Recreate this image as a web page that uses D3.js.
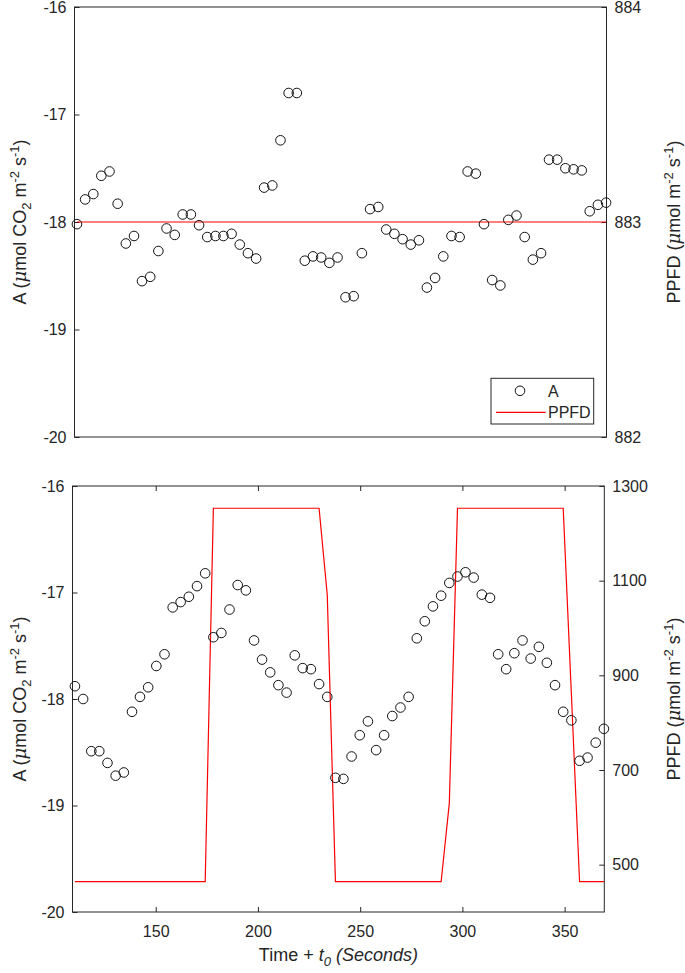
<!DOCTYPE html>
<html>
<head>
<meta charset="utf-8">
<script src="https://cdn.jsdelivr.net/npm/d3@7"></script>
<style>
	body { margin: 0; background: #fff; }
	#root { width: 685px; height: 973px; }
	text { font-family: "Liberation Sans", Arial, sans-serif; fill: #262626; }
</style>
</head>
<body>
<div id="root"></div>
<script>
// sample times (s), same for both runs
const times = [
	110.5, 114.5, 118.5, 122.4, 126.4, 130.4, 134.4, 138.4, 142.3, 146.3,
	150.3, 154.3, 158.3, 162.2, 166.2, 170.2, 174.2, 178.2, 182.1, 186.1,
	190.1, 194.1, 198.1, 202.0, 206.0, 210.0, 214.0, 218.0, 221.9, 225.9,
	229.9, 233.9, 237.9, 241.8, 245.8, 249.8, 253.8, 257.8, 261.7, 265.7,
	269.7, 273.7, 277.7, 281.6, 285.6, 289.6, 293.6, 297.6, 301.5, 305.5,
	309.5, 313.5, 317.5, 321.4, 325.4, 329.4, 333.4, 337.4, 341.3, 345.3,
	349.3, 353.3, 357.3, 361.2, 365.2, 369.2
];

// top: constant light
const aTop = [
	-18.02, -17.79, -17.74, -17.57, -17.53, -17.83, -18.20, -18.13, -18.55, -18.51,
	-18.27, -18.06, -18.12, -17.93, -17.93, -18.03, -18.14, -18.13, -18.13, -18.11,
	-18.21, -18.29, -18.34, -17.68, -17.66, -17.24, -16.80, -16.80, -18.36, -18.32,
	-18.33, -18.38, -18.33, -18.70, -18.69, -18.29, -17.88, -17.86, -18.07, -18.11,
	-18.16, -18.21, -18.17, -18.61, -18.52, -18.32, -18.13, -18.14, -17.53, -17.55,
	-18.02, -18.54, -18.59, -17.98, -17.94, -18.14, -18.35, -18.29, -17.42, -17.42,
	-17.50, -17.51, -17.52, -17.90, -17.84, -17.82
];
const ppfdTop = [
	883, 883, 883, 883, 883, 883, 883, 883, 883, 883,
	883, 883, 883, 883, 883, 883, 883, 883, 883, 883,
	883, 883, 883, 883, 883, 883, 883, 883, 883, 883,
	883, 883, 883, 883, 883, 883, 883, 883, 883, 883,
	883, 883, 883, 883, 883, 883, 883, 883, 883, 883,
	883, 883, 883, 883, 883, 883, 883, 883, 883, 883,
	883, 883, 883, 883, 883, 883
];

// bottom: square wave light
const aBottom = [
	-17.88, -18.00, -18.49, -18.49, -18.60, -18.72, -18.69, -18.12, -17.98, -17.89,
	-17.69, -17.58, -17.14, -17.09, -17.04, -16.94, -16.82, -17.42, -17.38, -17.16,
	-16.93, -16.98, -17.45, -17.63, -17.75, -17.87, -17.94, -17.59, -17.71, -17.72,
	-17.86, -17.98, -18.74, -18.75, -18.54, -18.34, -18.21, -18.48, -18.34, -18.16,
	-18.08, -17.98, -17.43, -17.27, -17.13, -17.03, -16.91, -16.85, -16.81, -16.86,
	-17.02, -17.05, -17.58, -17.72, -17.57, -17.45, -17.62, -17.51, -17.66, -17.87,
	-18.12, -18.20, -18.58, -18.55, -18.41, -18.28
];
const ppfdBottom = [
	464, 464, 464, 464, 464, 464, 464, 464, 464, 464,
	464, 464, 464, 464, 464, 464, 464, 1253, 1253, 1253,
	1253, 1253, 1253, 1253, 1253, 1253, 1253, 1253, 1253, 1253,
	1253, 1070, 464, 464, 464, 464, 464, 464, 464, 464,
	464, 464, 464, 464, 464, 464, 630, 1253, 1253, 1253,
	1253, 1253, 1253, 1253, 1253, 1253, 1253, 1253, 1253, 1253,
	1253, 860, 464, 464, 464, 464
];

const xDomain = [109.3, 369.4];
const xTicks = [150, 200, 250, 300, 350];
const aTicks = [-20, -19, -18, -17, -16];
const ppfdTopTicks = [882, 883, 884];
const ppfdBottomTicks = [500, 700, 900, 1100, 1300];

const axisColor = "#262626";
const red = "#ff0000";

const makeChart = () => {
	const svg = d3.select("#root")
		.append("svg")
			.attr("width", 685)
			.attr("height", 973);

	drawPanel(svg, {
		left: 74.5, right: 606.5, top: 7, bottom: 437,
		a: aTop, ppfd: ppfdTop,
		pDomain: [882, 884], pTicks: ppfdTopTicks,
		showX: false, legend: true
	});

	drawPanel(svg, {
		left: 72.5, right: 604.3, top: 486, bottom: 912,
		a: aBottom, ppfd: ppfdBottom,
		pDomain: [400, 1300], pTicks: ppfdBottomTicks,
		showX: true, legend: false
	});
};

const plainNum = d => String(d);

const styleAxis = (g) => {
	g.select(".domain").remove();
	g.selectAll("line").attr("stroke", axisColor);
	g.selectAll("text")
		.attr("fill", axisColor)
		.style("font-size", "16px");
};

const unitLabel = (text, parts) => {
	// parts: [string, kind] where kind is "n", "mu", "sub", "sup"
	let shift = 0;
	parts.forEach(([s, kind]) => {
		const t = text.append("tspan").text(s);
		let target = 0;
		if (kind === "sub") { target = 5; t.style("font-size", "13px"); }
		if (kind === "sup") { target = -7; t.style("font-size", "13px"); }
		if (kind === "mu") { t.style("font-style", "italic").style("font-family", "'DejaVu Serif', serif"); }
		if (target !== shift) t.attr("dy", target - shift);
		shift = target;
	});
};

const drawPanel = (svg, p) => {
	const x = d3.scaleLinear().domain(xDomain).range([p.left, p.right]);
	const yA = d3.scaleLinear().domain([-20, -16]).range([p.bottom, p.top]);
	const yP = d3.scaleLinear().domain(p.pDomain).range([p.bottom, p.top]);

	const g = svg.append("g");

	// box
	g.append("rect")
		.attr("x", p.left)
		.attr("y", p.top)
		.attr("width", p.right - p.left)
		.attr("height", p.bottom - p.top)
		.attr("fill", "none")
		.attr("stroke", axisColor)
		.attr("stroke-width", 1);

	// left axis
	g.append("g")
		.attr("transform", `translate(${p.left},0)`)
		.call(d3.axisLeft(yA).tickValues(aTicks).tickFormat(plainNum)
			.tickSizeInner(-5).tickSizeOuter(0).tickPadding(8))
		.call(styleAxis);

	// right axis
	g.append("g")
		.attr("transform", `translate(${p.right},0)`)
		.call(d3.axisRight(yP).tickValues(p.pTicks).tickFormat(plainNum)
			.tickSizeInner(-5).tickSizeOuter(0).tickPadding(8))
		.call(styleAxis);

	if (p.showX) {
		g.append("g")
			.attr("transform", `translate(0,${p.bottom})`)
			.call(d3.axisBottom(x).tickValues(xTicks).tickFormat(plainNum)
				.tickSizeInner(-5).tickSizeOuter(0).tickPadding(14))
			.call(styleAxis);

		g.append("g")
			.attr("transform", `translate(0,${p.top})`)
			.call(d3.axisTop(x).tickValues(xTicks).tickFormat("")
				.tickSizeInner(-5).tickSizeOuter(0))
			.call(styleAxis);

		const xl = g.append("text")
			.attr("x", (p.left + p.right) / 2)
			.attr("y", 961)
			.attr("text-anchor", "middle")
			.style("font-size", "18px");
		xl.append("tspan").text("Time +  ");
		xl.append("tspan").text("t").style("font-style", "italic");
		xl.append("tspan").text("0").style("font-style", "italic").style("font-size", "13px").attr("dy", 5);
		xl.append("tspan").text(" (Seconds)").style("font-style", "italic").attr("dy", -5);
	}

	// PPFD line
	const line = d3.line()
		.x((d, i) => x(times[i]))
		.y(d => yP(d));

	g.append("path")
		.datum(p.ppfd)
		.attr("d", line)
		.attr("fill", "none")
		.attr("stroke", red)
		.attr("stroke-width", 1.2);

	// A markers
	g.selectAll(".pt")
		.data(p.a)
		.enter()
		.append("circle")
			.attr("class", "pt")
			.attr("cx", (d, i) => x(times[i]))
			.attr("cy", d => yA(d))
			.attr("r", 4.8)
			.attr("fill", "none")
			.attr("stroke", "#111")
			.attr("stroke-width", 1);

	// axis titles
	const midY = (p.top + p.bottom) / 2;
	const yl = g.append("text")
		.attr("transform", `translate(26,${midY}) rotate(-90)`)
		.attr("text-anchor", "middle")
		.style("font-size", "18px");
	unitLabel(yl, [["A (", "n"], ["\u03bc", "mu"], ["mol CO", "n"], ["2", "sub"], [" m", "n"], ["-2", "sup"], [" s", "n"], ["-1", "sup"], [")", "n"]]);

	const yr = g.append("text")
		.attr("transform", `translate(680,${midY}) rotate(-90)`)
		.attr("text-anchor", "middle")
		.style("font-size", "18px");
	unitLabel(yr, [["PPFD (", "n"], ["\u03bc", "mu"], ["mol m", "n"], ["-2", "sup"], [" s", "n"], ["-1", "sup"], [")", "n"]]);

	if (p.legend) {
		const lx = p.right - 115.5, ly = p.bottom - 58.7;
		const lg = g.append("g").attr("transform", `translate(${lx},${ly})`);
		lg.append("rect")
			.attr("width", 102.7)
			.attr("height", 45.7)
			.attr("fill", "#fff")
			.attr("stroke", axisColor);
		lg.append("circle")
			.attr("cx", 29).attr("cy", 12.5).attr("r", 4.8)
			.attr("fill", "none").attr("stroke", "#111");
		lg.append("text").attr("x", 57).attr("y", 18.5).text("A").style("font-size", "16px");
		lg.append("line")
			.attr("x1", 5).attr("x2", 54.7).attr("y1", 34).attr("y2", 34)
			.attr("stroke", red).attr("stroke-width", 1.2);
		lg.append("text").attr("x", 57).attr("y", 40).text("PPFD").style("font-size", "16px");
	}
};

makeChart();
</script>
</body>
</html>
